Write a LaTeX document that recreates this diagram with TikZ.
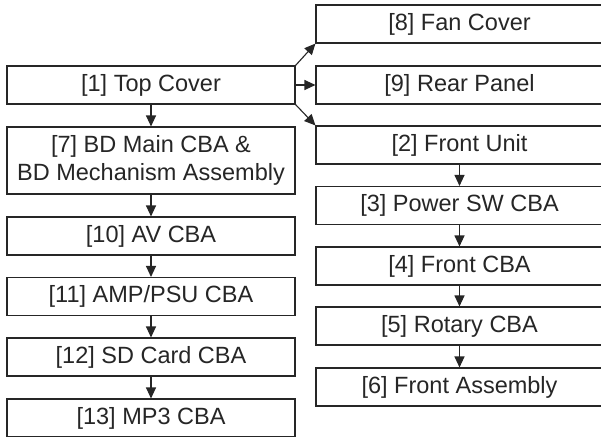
\documentclass[tikz,border=0pt]{standalone}
\usepackage{fontspec}
\setmainfont{Liberation Sans}
\usetikzlibrary{arrows.meta}
\definecolor{ink}{gray}{0.15}
\tikzset{
  box/.style={draw=ink, line width=1.1pt, rectangle, inner sep=0pt, text=ink,
    minimum height=38pt, font=\fontsize{23.5}{28}\selectfont, align=center},
  lbox/.style={box, minimum width=288pt},
  rbox/.style={box, minimum width=287pt},
  arr/.style={draw=ink, line width=1.1pt, -{Triangle[length=11pt,width=10pt]}}
}
\begin{document}
\begin{tikzpicture}[x=1pt,y=-1pt]
\useasboundingbox[fill=white] (0,0) rectangle (601,436);
% left column
\node[lbox] (top) at (151,85) {[1] Top Cover};
\node[lbox, minimum height=67pt] (bd) at (151,160.5) {[7] BD Main CBA \&\\BD Mechanism Assembly};
\node[lbox] (av) at (151,236) {[10] AV CBA};
\node[lbox] (amp) at (151,296.5) {[11] AMP/PSU CBA};
\node[lbox] (sd) at (151,357) {[12] SD Card CBA};
\node[lbox] (mp3) at (151,418) {[13] MP3 CBA};
% right column
\node[rbox] (fan) at (459.5,24) {[8] Fan Cover};
\node[rbox] (rear) at (459.5,85) {[9] Rear Panel};
\node[rbox] (front) at (459.5,145) {[2] Front Unit};
\node[rbox] (psw) at (459.5,205.5) {[3] Power SW CBA};
\node[rbox] (fcba) at (459.5,266) {[4] Front CBA};
\node[rbox] (rot) at (459.5,326) {[5] Rotary CBA};
\node[rbox] (fasm) at (459.5,387) {[6] Front Assembly};
% connectors
\draw[arr] (top) -- (bd);
\draw[arr] (bd) -- (av);
\draw[arr] (av) -- (amp);
\draw[arr] (amp) -- (sd);
\draw[arr] (sd) -- (mp3);
\draw[arr] (top.north east) -- (fan.south west);
\draw[arr] (top.east) -- (rear.west);
\draw[arr] (top.south east) -- (front.north west);
\draw[arr] (front) -- (psw);
\draw[arr] (psw) -- (fcba);
\draw[arr] (fcba) -- (rot);
\draw[arr] (rot) -- (fasm);
\end{tikzpicture}
\end{document}
